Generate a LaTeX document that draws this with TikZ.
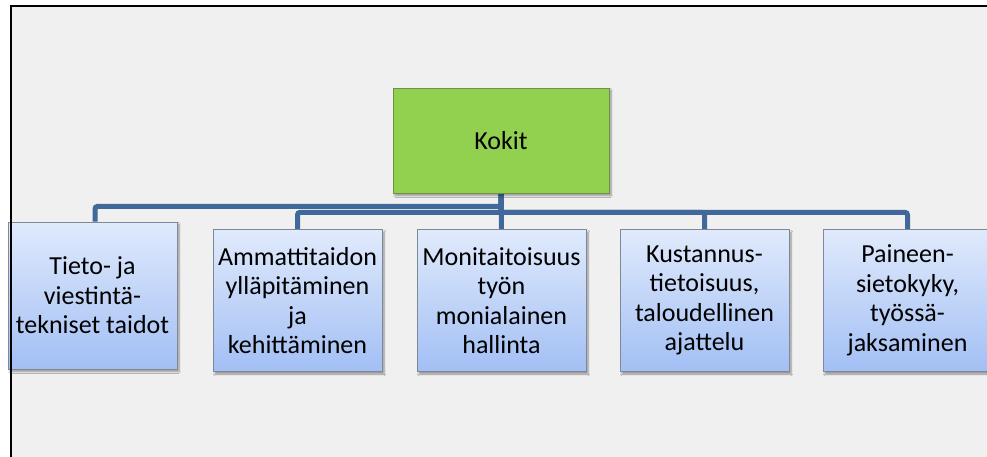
\documentclass[tikz,border=0pt]{standalone}
\usepackage{fontspec}
\setmainfont{Carlito}
\usetikzlibrary{backgrounds,shadows.blur}

\definecolor{panel}{HTML}{F0F0F0}
\definecolor{rootfill}{HTML}{92D050}
\definecolor{rootedge}{HTML}{6F8F4A}
\definecolor{leaftop}{HTML}{E0EAFC}
\definecolor{leafbot}{HTML}{A2BFF4}
\definecolor{leafedge}{HTML}{7F8896}
\definecolor{connblue}{HTML}{41689A}

\tikzset{
  boxtext/.style={font=\fontsize{26}{29.5}\selectfont, text=black, align=center, inner sep=0pt},
  rootbox/.style={boxtext, draw=rootedge, line width=0.8pt, fill=rootfill,
    minimum width=216pt, minimum height=105pt,
    blur shadow={shadow xshift=2pt, shadow yshift=-2.5pt, shadow blur steps=6, shadow opacity=40}},
  leafbox/.style={boxtext, draw=leafedge, line width=0.8pt, top color=leaftop, bottom color=leafbot,
    minimum width=169pt, minimum height=142pt,
    blur shadow={shadow xshift=2pt, shadow yshift=-2.5pt, shadow blur steps=6, shadow opacity=40}},
  conn/.style={draw=connblue, line width=5pt, rounded corners=2.5pt},
  frameline/.style={draw=black, line width=2pt}
}

\begin{document}
\begin{tikzpicture}[x=1pt,y=-1pt]
  \useasboundingbox (0,0) rectangle (987,457);

  % top of the hierarchy
  \node[rootbox] (kokit) at (501,140.5) {Kokit};

  % competence areas
  \node[leafbox, minimum height=147pt] (b1) at (92.5,295.5) {Tieto- ja\\viestintä-\\tekniset taidot};
  \node[leafbox] (b2) at (297.5,300.5) {Ammattitaidon\\ylläpitäminen\\ja\\kehittäminen};
  \node[leafbox] (b3) at (501.5,300.5) {Monitaitoisuus\\työn\\monialainen\\hallinta};
  \node[leafbox] (b4) at (704.5,300.5) {Kustannus-\\tietoisuus,\\taloudellinen\\ajattelu};
  \node[leafbox] (b5) at (907.5,300.5) {Paineen-\\sietokyky,\\työssä-\\jaksaminen};

  \begin{scope}[on background layer]
    % page and panel
    \fill[white] (0,0) rectangle (987,457);
    \fill[panel] (10,6) rectangle (987,457);
    % tree connectors
    \draw[conn] (kokit.south) -- ++(0,13) -| ([xshift=2.5pt]b1.north);
    \draw[conn] (kokit.south) -- ++(0,19) -| (b2.north);
    \draw[conn] (kokit.south) -- (b3.north);
    \draw[conn] (kokit.south) -- ++(0,19) -| (b4.north);
    \draw[conn] (kokit.south) -- ++(0,19) -| (b5.north);
  \end{scope}

  % panel frame on the left and top
  \draw[frameline] (10.5,457) -- (10.5,6.5) -- (987,6.5);
\end{tikzpicture}
\end{document}
